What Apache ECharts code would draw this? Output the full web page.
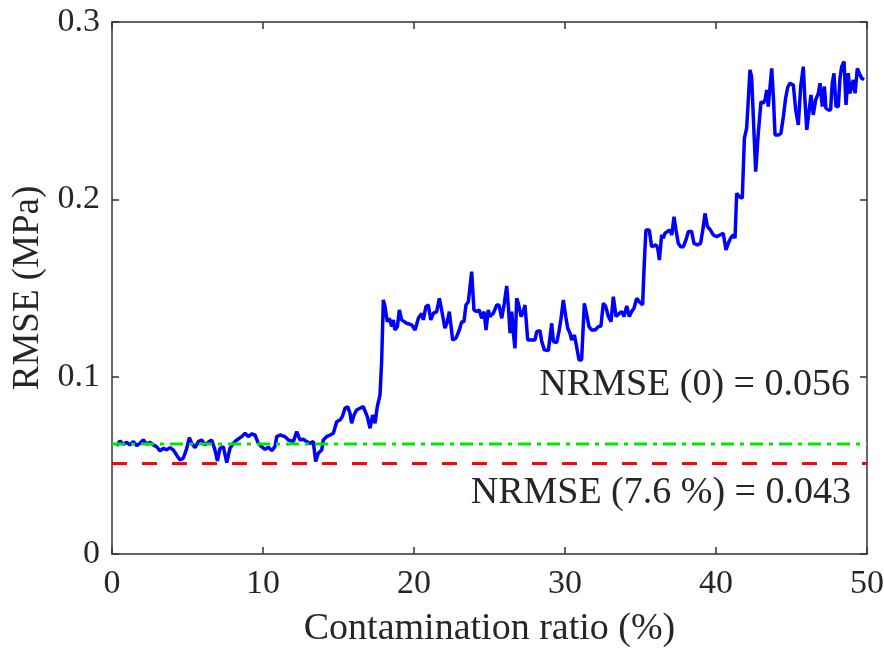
<!DOCTYPE html>
<html style="height: 100%">
<head>
  <meta charset="utf-8">
</head>
<body style="height: 100%; margin: 0; background: #fff">
  <div id="container" style="width: 884px; height: 648px"></div>
  <script type="text/javascript" src="https://cdn.jsdelivr.net/npm/echarts@6.0.0/dist/echarts.min.js"></script>
  <script type="text/javascript">
    // contamination ratio (%)
    var ratio = [
      0.31, 0.53, 0.75, 0.97, 1.19, 1.41, 1.64, 1.85, 2.07, 2.30, 2.52, 2.74, 2.96, 3.18, 3.40, 3.62, 3.84, 4.06, 4.28, 4.50,
      4.72, 4.95, 5.12, 5.28, 5.50, 5.72, 5.94, 6.16, 6.38, 6.60, 6.82, 6.98, 7.15, 7.37, 7.60, 7.81, 8.04, 8.26,
      8.59, 8.81, 9.03, 9.25, 9.47, 9.69, 9.91, 10.13, 10.35, 10.58, 10.79, 10.91, 11.13, 11.46, 11.68, 12.01, 12.23, 12.45,
      12.67, 12.89, 13.11, 13.33, 13.49, 13.66, 13.89, 13.99, 14.22, 14.44, 14.66, 14.88, 15.10, 15.25, 15.43, 15.61, 15.76,
      15.87, 16.03, 16.20, 16.42,
      16.64, 16.75, 16.91, 17.09, 17.26, 17.42, 17.57, 17.75, 17.86, 17.97, 18.08, 18.23, 18.37, 18.52, 18.63, 18.74, 18.90,
      19.03, 19.18, 19.51, 19.85, 20.07, 20.29, 20.51, 20.62, 20.79, 20.95, 21.11, 21.28, 21.50, 21.68, 21.83, 22.05, 22.21,
      22.34, 22.56, 22.78, 23.00, 23.16, 23.31, 23.44, 23.60, 23.71, 23.82, 23.97, 24.15, 24.32, 24.48, 24.64, 24.77, 24.92,
      25.03, 25.25, 25.48, 25.63, 25.81, 25.98, 26.14, 26.25, 26.36, 26.47, 26.58, 26.69, 26.80, 26.91, 27.09, 27.24, 27.35,
      27.53, 27.79, 28.01, 28.13, 28.34, 28.46, 28.63, 28.90, 29.12, 29.23, 29.45, 29.60, 29.74, 29.89, 30.05, 30.18, 30.33,
      30.44, 30.62, 30.77, 30.93, 31.10, 31.28, 31.44, 31.59, 31.77, 31.99, 32.21, 32.38, 32.54, 32.70, 32.87, 33.05, 33.20,
      33.38, 33.60, 33.75, 33.91, 34.09, 34.26, 34.41, 34.57, 34.75, 34.92, 35.14, 35.25, 35.36, 35.58, 35.74, 35.85, 36.03,
      36.14, 36.25, 36.40, 36.51, 36.62, 36.78, 36.95, 37.07, 37.22, 37.35, 37.50, 37.66, 37.84, 38.01, 38.17, 38.39, 38.54,
      38.76, 38.98, 39.16, 39.27, 39.43, 39.60, 39.82, 40.05, 40.26, 40.48, 40.66, 40.81, 40.97, 41.15, 41.26, 41.37, 41.54,
      41.74, 41.88, 42.03, 42.14, 42.25, 42.36, 42.47, 42.63, 42.80, 42.98, 43.13, 43.25, 43.36, 43.46, 43.58, 43.69, 43.80,
      43.91, 44.13, 44.30, 44.46, 44.61, 44.75, 44.90, 45.12, 45.28, 45.45, 45.61, 45.78, 45.89, 46.01, 46.16, 46.29, 46.44,
      46.60, 46.78, 46.89, 47.04, 47.18, 47.28, 47.44, 47.59, 47.70, 47.81, 47.95, 48.10, 48.21, 48.32, 48.48, 48.61, 48.76,
      48.87, 48.99, 49.09, 49.21, 49.36, 49.49, 49.65, 49.80
    ];
    // RMSE (MPa)
    var rmse = [
      0.0611, 0.0637, 0.0619, 0.0630, 0.0615, 0.0634, 0.0611, 0.0624, 0.0643, 0.0619, 0.0630, 0.0615, 0.0605, 0.0581, 0.0596, 0.0587, 0.0600, 0.0587, 0.0558, 0.0530,
      0.0540, 0.0596, 0.0656, 0.0624, 0.0600, 0.0634, 0.0643, 0.0615, 0.0630, 0.0643, 0.0587, 0.0525, 0.0596, 0.0605, 0.0515, 0.0596, 0.0624, 0.0643,
      0.0662, 0.0681, 0.0662, 0.0677, 0.0671, 0.0624, 0.0605, 0.0590, 0.0602, 0.0583, 0.0605, 0.0662, 0.0671, 0.0662, 0.0643, 0.0634, 0.0690, 0.0643,
      0.0647, 0.0634, 0.0624, 0.0634, 0.0521, 0.0568, 0.0587, 0.0643, 0.0662, 0.0671, 0.0681, 0.0746, 0.0756, 0.0774, 0.0822, 0.0831, 0.0794,
      0.0737, 0.0784, 0.0812, 0.0822,
      0.0831, 0.0840, 0.0774, 0.0709, 0.0784, 0.0737, 0.0831, 0.0897, 0.1094, 0.1433, 0.1395, 0.1310, 0.1329, 0.1282, 0.1320, 0.1263, 0.1282,
      0.1376, 0.1320, 0.1301, 0.1292, 0.1263, 0.1329, 0.1357, 0.1320, 0.1395, 0.1404, 0.1320, 0.1357, 0.1367, 0.1442, 0.1376, 0.1273, 0.1310,
      0.1367, 0.1207, 0.1217, 0.1263, 0.1310, 0.1310, 0.1404, 0.1423, 0.1508, 0.1592, 0.1376, 0.1367, 0.1376, 0.1329, 0.1367, 0.1263, 0.1376,
      0.1339, 0.1357, 0.1404, 0.1404, 0.1329, 0.1414, 0.1512, 0.1395, 0.1245, 0.1367, 0.1245, 0.1160, 0.1442, 0.1414, 0.1339, 0.1367, 0.1404,
      0.1207, 0.1207, 0.1207, 0.1254, 0.1260, 0.1198, 0.1151, 0.1147, 0.1301, 0.1198, 0.1192, 0.1254, 0.1329, 0.1433, 0.1339, 0.1273, 0.1245,
      0.1207, 0.1235, 0.1169, 0.1094, 0.1094, 0.1414, 0.1348, 0.1282, 0.1263, 0.1263, 0.1282, 0.1286, 0.1414, 0.1395, 0.1339, 0.1310, 0.1451,
      0.1339, 0.1357, 0.1367, 0.1339, 0.1399, 0.1339, 0.1367, 0.1386, 0.1442, 0.1423, 0.1404, 0.1640, 0.1827, 0.1827, 0.1733, 0.1743, 0.1743,
      0.1724, 0.1658, 0.1799, 0.1781, 0.1809, 0.1818, 0.1827, 0.1799, 0.1902, 0.1827, 0.1752, 0.1733, 0.1733, 0.1771, 0.1818, 0.1818, 0.1752,
      0.1743, 0.1752, 0.1846, 0.1921, 0.1846, 0.1831, 0.1799, 0.1790, 0.1799, 0.1809, 0.1715, 0.1752, 0.1781, 0.1799, 0.1781, 0.2034, 0.2015,
      0.2006, 0.2345, 0.2401, 0.2561, 0.2730, 0.2692, 0.2466, 0.2156, 0.2373, 0.2551, 0.2542, 0.2561, 0.2617, 0.2523, 0.2636, 0.2739, 0.2579,
      0.2363, 0.2363, 0.2373, 0.2466, 0.2570, 0.2632, 0.2655, 0.2645, 0.2504, 0.2420, 0.2636, 0.2748, 0.2561, 0.2391, 0.2495, 0.2589, 0.2476,
      0.2561, 0.2598, 0.2655, 0.2523, 0.2636, 0.2514, 0.2504, 0.2504, 0.2655, 0.2711, 0.2523, 0.2523, 0.2683, 0.2748, 0.2777, 0.2532, 0.2711,
      0.2598, 0.2598, 0.2673, 0.2598, 0.2739, 0.2711, 0.2683, 0.2673
    ];
    // reference levels
    var greenLevel = 0.062;
    var redLevel = 0.051;
    var xTicks = [0, 50, 10];
    var yTicks = [0, 0.3, 0.1];
    var noteTop = 'NRMSE (0) = 0.056';
    var noteBottom = 'NRMSE (7.6 %) = 0.043';

    var font = 'Liberation Serif';
    var axisColor = '#333333';

    var dom = document.getElementById('container');
    var myChart = echarts.init(dom, null, { renderer: 'canvas' });

    function boxAxis(pos, isX, ticks, showLabel) {
      var ax = {
        type: 'value',
        position: pos,
        min: ticks[0],
        max: ticks[1],
        interval: ticks[2],
        axisLine: { show: true, onZero: false, lineStyle: { color: axisColor, width: 1.5 } },
        axisTick: { show: true, inside: true, length: 7, lineStyle: { color: axisColor, width: 1.5 } },
        splitLine: { show: false },
        axisLabel: {
          show: showLabel,
          color: '#262626',
          fontFamily: font,
          fontSize: 34,
          margin: isX ? 13 : 12,
          formatter: function (v) { return v === 0 ? '0' : (isX ? String(v) : v.toFixed(1)); }
        }
      };
      return ax;
    }

    var xMain = boxAxis('bottom', true, xTicks, true);
    xMain.name = 'Contamination ratio (%)';
    xMain.nameLocation = 'middle';
    xMain.nameGap = 56;
    xMain.nameTextStyle = { color: '#262626', fontFamily: font, fontSize: 38 };
    var yMain = boxAxis('left', false, yTicks, true);
    yMain.name = 'RMSE (MPa)';
    yMain.nameLocation = 'middle';
    yMain.nameGap = 58;
    yMain.nameTextStyle = { color: '#262626', fontFamily: font, fontSize: 37 };

    var option = {
      backgroundColor: '#ffffff',
      animation: false,
      grid: { left: 112, right: 17, top: 22, bottom: 94, outerBoundsMode: 'none', containLabel: false },
      xAxis: [xMain, boxAxis('top', true, xTicks, false)],
      yAxis: [yMain, boxAxis('right', false, yTicks, false)],
      series: [
        {
          type: 'line',
          data: ratio.map(function (x, i) { return [x, rmse[i]]; }),
          showSymbol: false,
          lineStyle: { color: '#0000ff', width: 3.5 },
          z: 2
        },
        {
          type: 'line',
          data: [[xTicks[0], greenLevel], [xTicks[1], greenLevel]],
          showSymbol: false,
          lineStyle: { color: '#00e600', width: 3, type: [13, 6, 4, 6] },
          z: 3
        },
        {
          type: 'line',
          data: [[xTicks[0], redLevel], [xTicks[1], redLevel]],
          showSymbol: false,
          lineStyle: { color: '#ff0000', width: 3, type: [15, 15] },
          z: 3
        }
      ],
      graphic: [
        {
          type: 'text', x: 850, y: 385,
          style: { text: noteTop, align: 'right', verticalAlign: 'middle', fill: '#262626', font: '38px "Liberation Serif"' }
        },
        {
          type: 'text', x: 851, y: 493,
          style: { text: noteBottom, align: 'right', verticalAlign: 'middle', fill: '#262626', font: '38px "Liberation Serif"' }
        }
      ]
    };

    myChart.setOption(option);
    window.addEventListener('resize', myChart.resize);
  </script>
</body>
</html>
